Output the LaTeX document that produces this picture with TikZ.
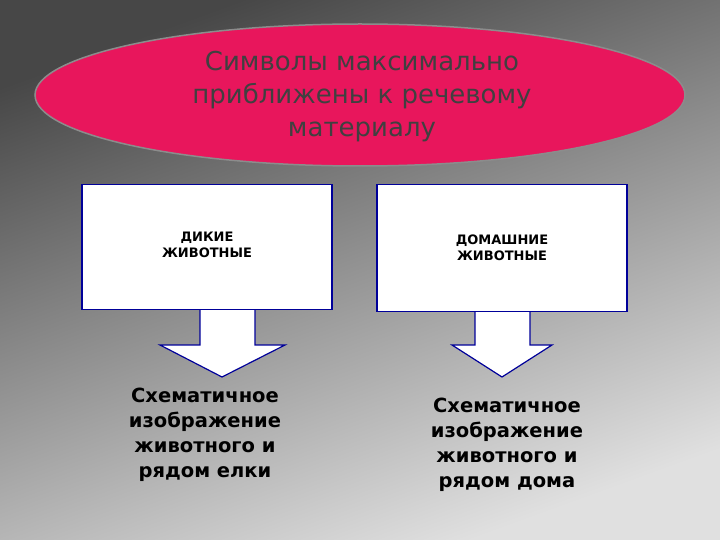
\documentclass[tikz,border=0pt]{standalone}
\usepackage{fontspec}
\setmainfont{DejaVu Sans}
\usetikzlibrary{shapes.geometric}
\begin{document}
\begin{tikzpicture}[x=1pt,y=-1pt,
  box/.style={draw=blue!60!black,fill=white,line width=1.2pt},
  arr/.style={draw=blue!60!black,fill=white,line width=1.2pt,line join=miter},
  small/.style={font=\bfseries\fontsize{13}{16}\selectfont,align=center,text=black},
  big/.style={font=\bfseries\fontsize{19.5}{25}\selectfont,align=center,text=black}]
\shade[top color=black!72,bottom color=black!12,shading angle=20] (0,0) rectangle (720,540);
\useasboundingbox (0,0) rectangle (720,540);
\node[ellipse,draw=black!45,line width=1.5pt,fill={rgb,255:red,232;green,22;blue,92},minimum width=650pt,minimum height=142pt] (e) at (360,95) {};
\node[align=center,font=\fontsize{26}{33}\selectfont,text=black!75] (t) at (362,97) {Символы максимально\\приближены к речевому\\материалу};
% left
\draw[arr] (200,309) -- (200,345) -- (160,345) -- (222,377) -- (285,345) -- (255,345) -- (255,309);
\node[box,minimum width=250pt,minimum height=125pt] (b1) at (207,247) {};
\node[small] (l1) at (207,245) {ДИКИЕ\\ЖИВОТНЫЕ};
\node[big] (d1) at (205,435) {Схематичное\\изображение\\животного и\\рядом елки};
% right
\draw[arr] (475,311) -- (475,345) -- (452,345) -- (502,377) -- (552,345) -- (530,345) -- (530,311);
\node[box,minimum width=250pt,minimum height=127pt] (b2) at (502,248) {};
\node[small] (l2) at (502,248) {ДОМАШНИЕ\\ЖИВОТНЫЕ};
\node[big] (d2) at (507,445) {Схематичное\\изображение\\животного и\\рядом дома};
\end{tikzpicture}
\end{document}
